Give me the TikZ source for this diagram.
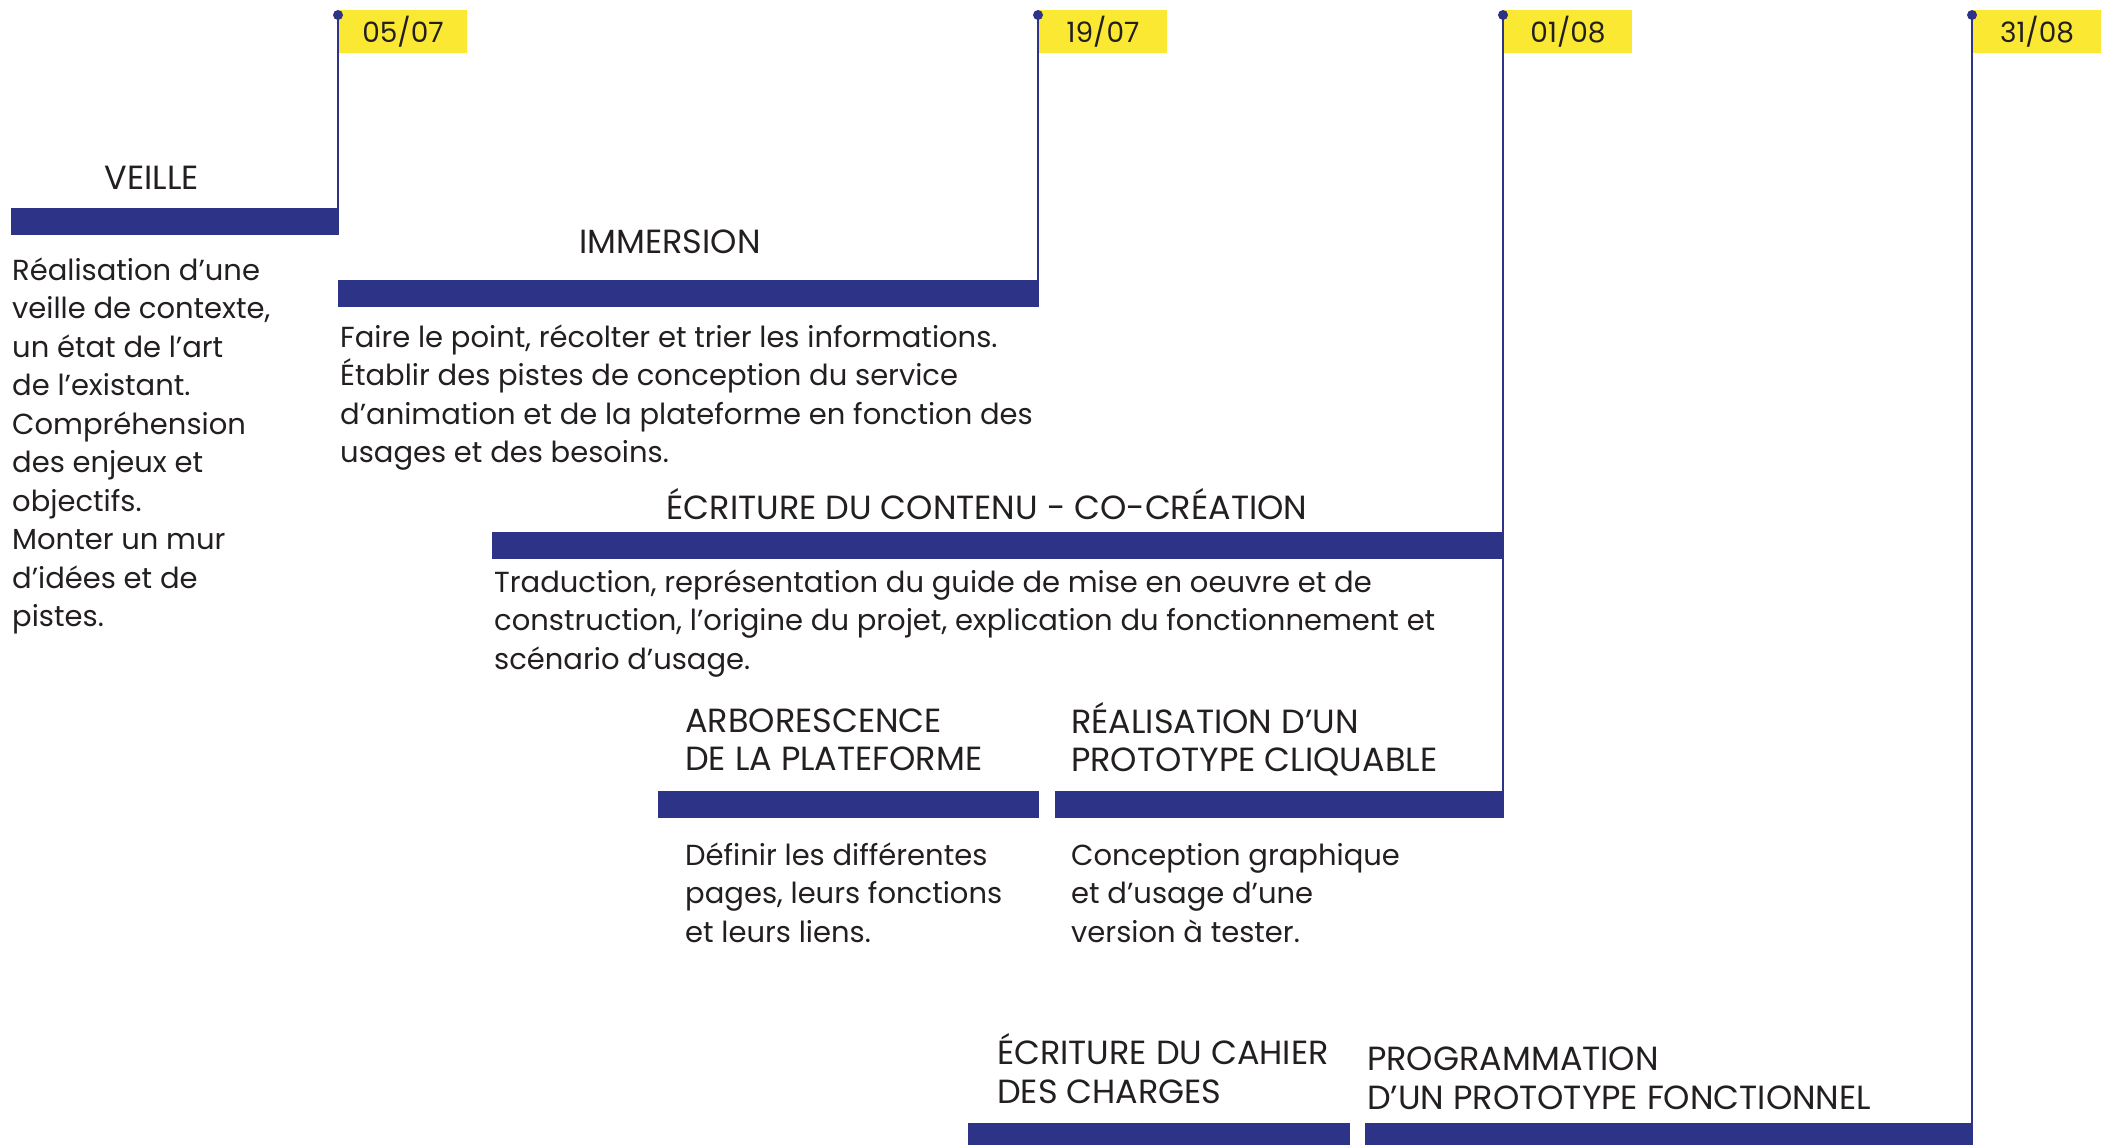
\documentclass[tikz,border=0pt]{standalone}
\usepackage{fontspec}
\setmainfont{Poppins}
\definecolor{navy}{RGB}{45,52,136}
\definecolor{ylw}{RGB}{250,232,50}
\definecolor{ink}{RGB}{35,31,32}
\begin{document}
\begin{tikzpicture}[x=1pt,y=-1pt,
  bar/.style={fill=navy,draw=none,inner sep=0pt,outer sep=0pt,anchor=north west,minimum height=27pt},
  flag/.style={fill=ylw,draw=none,inner sep=0pt,outer sep=0pt,anchor=north west,minimum width=128pt,minimum height=43pt,text=ink,font=\fontsize{28}{30}\selectfont},
  pin/.style={circle,fill=navy,draw=none,inner sep=0pt,minimum size=10pt},
  dateline/.style={draw=navy,line width=2.5pt},
  head/.style={anchor=base west,inner sep=0pt,align=left,text=ink,font=\fontsize{33.5}{38.5}\selectfont},
  body/.style={anchor=base west,inner sep=0pt,align=left,text=ink,font=\fontsize{29}{38.5}\selectfont}]
\useasboundingbox (0,0) rectangle (2109,1145);
% bars
\node[bar,minimum width=328pt] (bVeille) at (11,208) {};
\node[bar,minimum width=701pt] (bImm) at (338,280) {};
\node[bar,minimum width=1011pt] (bEcr) at (492,532) {};
\node[bar,minimum width=381pt] (bArbo) at (658,791) {};
\node[bar,minimum width=449pt] (bReal) at (1055,791) {};
\node[bar,minimum width=382pt] (bCahier) at (968,1123) {};
\node[bar,minimum width=608pt] (bProg) at (1365,1123) {};
% flags
\node[flag] (f1) at (339,10) {05/07};
\node[flag] (f2) at (1039,10) {19/07};
\node[flag] (f3) at (1504,10) {01/08};
\node[flag] (f4) at (1973,10) {31/08};
% pins and date lines
\coordinate (c1) at (338,15);
\coordinate (c2) at (1038,15);
\coordinate (c3) at (1503,15);
\coordinate (c4) at (1972,15);
\draw[dateline] (c1) -- (c1 |- bVeille.south);
\draw[dateline] (c2) -- (c2 |- bImm.south);
\draw[dateline] (c3) -- (c3 |- bReal.south);
\draw[dateline] (c4) -- (c4 |- bProg.south);
\node[pin] (p1) at (c1) {};
\node[pin] (p2) at (c2) {};
\node[pin] (p3) at (c3) {};
\node[pin] (p4) at (c4) {};
% headings (base = last line baseline)
\node[head,anchor=base] (hVeille) at (152,189) {VEILLE};
\node[head,anchor=base] (hImm) at (670,253) {IMMERSION};
\node[head,anchor=base] (hEcr) at (987,519) {ÉCRITURE DU CONTENU - CO-CRÉATION};
\node[head] (hArbo) at (685,770.5) {ARBORESCENCE\\DE LA PLATEFORME};
\node[head] (hReal) at (1071,771.5) {RÉALISATION D’UN\\PROTOTYPE CLIQUABLE};
\node[head] (hCahier) at (997,1103) {ÉCRITURE DU CAHIER\\DES CHARGES};
\node[head] (hProg) at (1367,1109) {PROGRAMMATION\\D’UN PROTOTYPE FONCTIONNEL};
% bodies (base = last line baseline)
\node[body] (tVeille) at (12,626.5) {Réalisation d’une\\veille de contexte,\\un état de l’art\\de l’existant.\\Compréhension\\des enjeux et\\objectifs.\\Monter un mur\\d’idées et de\\pistes.};
\node[body] (tImm) at (340,462.5) {Faire le point, récolter et trier les informations.\\Établir des pistes de conception du service\\d’animation et de la plateforme en fonction des\\usages et des besoins.};
\node[body] (tEcr) at (494,669) {Traduction, représentation du guide de mise en oeuvre et de\\construction, l’origine du projet, explication du fonctionnement et\\scénario d’usage.};
\node[body] (tArbo) at (685,942) {Définir les différentes\\pages, leurs fonctions\\et leurs liens.};
\node[body] (tReal) at (1071,942) {Conception graphique\\et d’usage d’une\\version à tester.};
\end{tikzpicture}
\end{document}
